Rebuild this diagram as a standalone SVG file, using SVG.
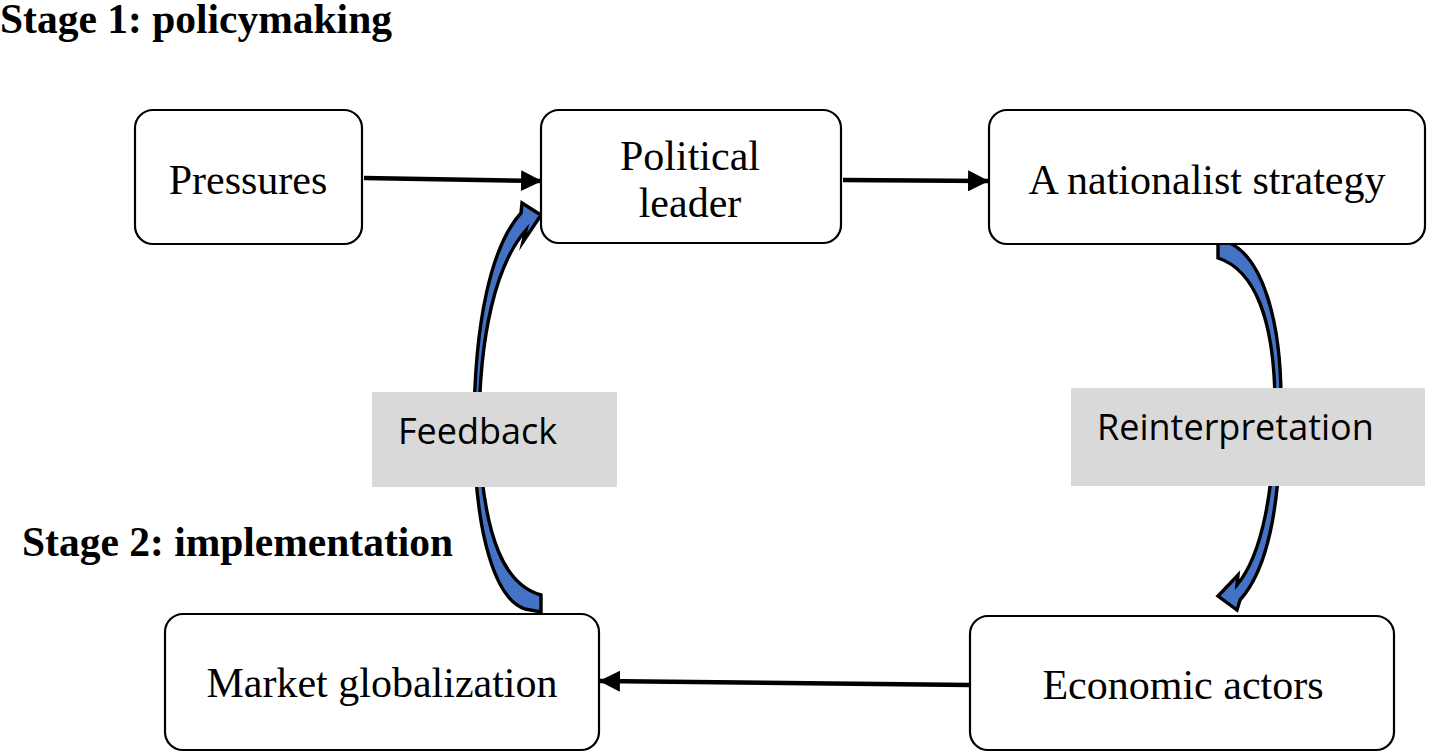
<svg xmlns="http://www.w3.org/2000/svg" width="1430" height="756" viewBox="0 0 1430 756">
<defs>
<marker id="ah" viewBox="0 0 20 20" refX="19" refY="10" markerWidth="21" markerHeight="21" markerUnits="userSpaceOnUse" orient="auto">
<path d="M0,0 L20,10 L0,20 Z" fill="#000"/>
</marker>
</defs>
<style>
.box{fill:#fff;stroke:#000;stroke-width:2.2}
.lbl{font-family:"Liberation Serif","Times New Roman",serif;font-size:42px;fill:#000;text-anchor:middle}
.title{font-family:"Liberation Serif","Times New Roman",serif;font-size:41.5px;font-weight:bold;fill:#000}
.gray{fill:#d9d9d9}
.glbl{font-family:"Open Sans","Liberation Sans",sans-serif;font-size:36px;fill:#000}
.conn{stroke:#000;stroke-width:4.5;fill:none}
.curve{fill:#4472c4;stroke:#000;stroke-width:3.4;stroke-linejoin:miter;stroke-miterlimit:8}
</style>
<rect width="1430" height="756" fill="#fff"/>
<text class="title" x="0" y="33">Stage 1: policymaking</text>
<text class="title" x="22" y="556">Stage 2: implementation</text>
<g id="connectors">
<line class="conn" x1="364" y1="178" x2="541" y2="181" marker-end="url(#ah)"/>
<line class="conn" x1="843" y1="180" x2="988" y2="181" marker-end="url(#ah)"/>
<line class="conn" x1="970" y1="685" x2="600" y2="681" marker-end="url(#ah)"/>
<path class="curve" d="M541 612 L541 595 C505 585 484 540 479 440 C478 330 498 262 526 230 L523 242 L541 215 L522 203 L521 213 C492 245 474 320 474 430 C475 540 497 600 525 609 Z"/>
<path class="curve" d="M1218 242 L1227 242 C1262 255 1281 320 1281 400 C1281 490 1272 565 1240 600 L1237 610 L1218 596 L1238 575 L1237 585 C1262 555 1275 490 1275 400 C1274 320 1255 270 1218 258 Z"/>
</g>
<g id="feedback">
<rect class="gray" x="372" y="392" width="245" height="95"/>
<text class="glbl" x="398" y="444">Feedback</text>
</g>
<g id="reinterpretation">
<rect class="gray" x="1071" y="388" width="354" height="98"/>
<text class="glbl" x="1097" y="440">Reinterpretation</text>
</g>
<g id="pressures">
<rect class="box" x="135" y="110" width="227" height="134" rx="18"/>
<text class="lbl" x="248" y="194">Pressures</text>
</g>
<g id="political-leader">
<rect class="box" x="541" y="110" width="300" height="133" rx="18"/>
<text class="lbl" x="690" y="170">Political</text>
<text class="lbl" x="690" y="217">leader</text>
</g>
<g id="nationalist-strategy">
<rect class="box" x="989" y="110" width="436" height="134" rx="18"/>
<text class="lbl" x="1207" y="194">A nationalist strategy</text>
</g>
<g id="market-globalization">
<rect class="box" x="165" y="614" width="434" height="136" rx="18"/>
<text class="lbl" x="382" y="697">Market globalization</text>
</g>
<g id="economic-actors">
<rect class="box" x="970" y="616" width="424" height="134" rx="18"/>
<text class="lbl" x="1183" y="699">Economic actors</text>
</g>
</svg>
